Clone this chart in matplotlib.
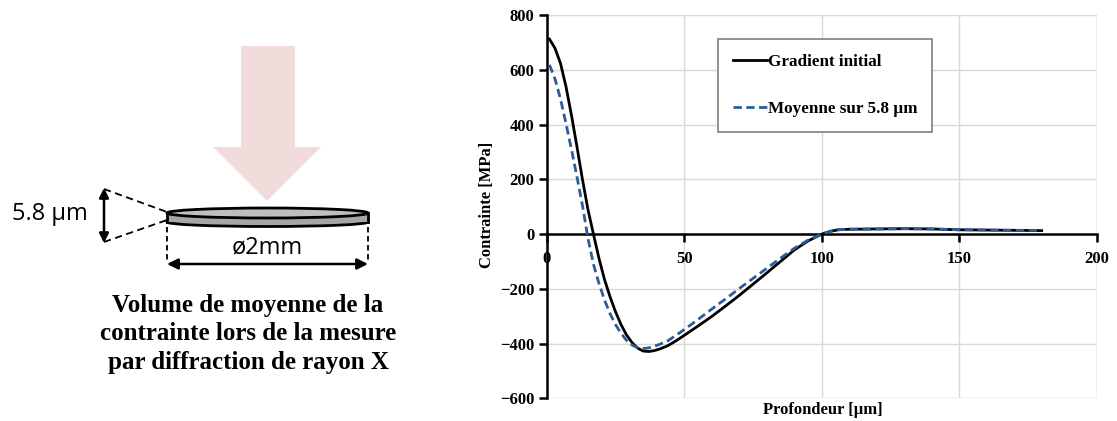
import matplotlib
matplotlib.use("Agg")
import matplotlib.pyplot as plt
from matplotlib.patches import Polygon, Ellipse, Rectangle, FancyArrowPatch

# ---------------- data ----------------
depth_grad = [1, 3, 5, 7, 9, 11, 13, 15, 17, 19, 21, 23, 25, 27, 29, 31, 33, 35, 37, 39,
              41, 44, 47, 50, 55, 60, 65, 70, 75, 80, 85, 90, 95, 100, 103, 106, 110,
              120, 130, 140, 150, 160, 170, 180]
stress_grad = [713, 680, 625, 540, 435, 320, 200, 90, 0, -88, -165, -228, -283, -330, -368,
               -396, -416, -427, -429, -426, -420, -408, -390, -370, -336, -301, -263, -224,
               -183, -142, -100, -58, -25, 0, 10, 16, 18, 19, 20, 19, 16, 15, 14, 13]

depth_avg = [1, 3, 5, 7, 9, 11, 13, 15, 17, 19, 21, 23, 25, 27, 29, 31, 33, 35, 37, 39,
             41, 44, 47, 50, 55, 60, 65, 70, 75, 80, 85, 90, 95, 100, 103, 106, 110,
             120, 130, 140, 150, 160, 170, 180]
stress_avg = [619, 568, 495, 405, 310, 210, 105, -15, -110, -180, -240, -290, -330, -362,
              -388, -405, -415, -418, -416, -410, -403, -390, -370, -349, -312, -274, -237,
              -199, -162, -125, -88, -52, -22, 0, 10, 16, 18, 19, 20, 19, 16, 15, 14, 14]

series_labels = ["Gradient initial", "Moyenne sur 5.8 µm"]
x_ticks = [0, 50, 100, 150, 200]
y_ticks = [-600, -400, -200, 0, 200, 400, 600, 800]
x_label = "Profondeur [µm]"
y_label = "Contrainte [MPa]"
caption = "Volume de moyenne de la\ncontrainte lors de la mesure\npar diffraction de rayon X"
thickness_text = "5.8 µm"
diameter_text = "ø2mm"

W, H = 1117, 421
serif = ["Liberation Serif", "DejaVu Serif"]
sans = ["Open Sans", "DejaVu Sans"]

fig = plt.figure(figsize=(W / 100, H / 100), dpi=100)

# ---------------- left schematic (pixel coordinates) ----------------
d = fig.add_axes([0, 0, 1, 1])
d.set_xlim(0, W)
d.set_ylim(H, 0)
d.axis("off")
d.set_zorder(0)

# pink arrow
arrow = Polygon([(241, 46), (295, 46), (295, 147), (321, 147), (267, 201),
                 (213, 147), (241, 147)], closed=True, facecolor="#f2dcdb",
                edgecolor="none")
d.add_patch(arrow)

# disk (flat cylinder)
d.add_patch(Ellipse((267.5, 222), 201, 9, facecolor="#a6a6a6", edgecolor="black", lw=2.0))
d.add_patch(Rectangle((167.5, 213), 200, 9, facecolor="#a6a6a6", edgecolor="none"))
d.plot([167, 167], [213, 222], color="black", lw=2.0)
d.plot([368, 368], [213, 222], color="black", lw=2.0)
d.add_patch(Ellipse((267.5, 213), 201, 10, facecolor="#bfbfbf", edgecolor="black", lw=2.0))

# dashed zoom lines
d.plot([104, 167], [189, 212], color="black", lw=1.3, ls=(0, (4, 2.5)))
d.plot([104, 167], [242, 220], color="black", lw=1.3, ls=(0, (4, 2.5)))
d.add_patch(FancyArrowPatch((104, 188), (104, 243), arrowstyle="<|-|>",
                            mutation_scale=14, color="black", lw=1.8, shrinkA=0, shrinkB=0))
d.text(50, 214, thickness_text, ha="center", va="center", fontsize=17, family=sans)

# diameter
d.plot([167, 167], [227, 262], color="black", lw=1.3, ls=(0, (3, 2)))
d.plot([368, 368], [227, 262], color="black", lw=1.3, ls=(0, (3, 2)))
d.add_patch(FancyArrowPatch((167, 264), (368, 264), arrowstyle="<|-|>",
                            mutation_scale=16, color="black", lw=1.8, shrinkA=0, shrinkB=0))
d.text(267, 247, diameter_text, ha="center", va="center", fontsize=17, family=sans)

d.text(248, 334, caption, ha="center", va="center", fontsize=18, family=serif,
       fontweight="bold", linespacing=1.32)

# ---------------- chart ----------------
ax = fig.add_axes([546.7 / W, 1 - 398.3 / H, 550 / W, 383 / H])
ax.set_zorder(1)
ax.patch.set_alpha(0)

ax.plot(depth_grad, stress_grad, color="black", lw=2.0, label=series_labels[0], zorder=3)
ax.plot(depth_avg, stress_avg, color="#2c5d9a", lw=2.0, ls=(0, (3, 1.6)),
        label=series_labels[1], zorder=4)

ax.set_xlim(0, 200)
ax.set_ylim(-600, 800)
ax.set_xticks(x_ticks)
ax.set_yticks(y_ticks)
ax.grid(True, color="#d9d9d9", lw=1.0)
ax.set_axisbelow(True)

for s in ["top", "right"]:
    ax.spines[s].set_visible(False)
ax.spines["left"].set_linewidth(1.8)
ax.spines["bottom"].set_linewidth(1.8)
ax.spines["bottom"].set_position(("data", 0))
ax.spines["bottom"].set_zorder(2)
ax.axhline(-600, color="#d9d9d9", lw=1.0, zorder=0)
ax.axvline(200, color="#d9d9d9", lw=1.0, zorder=0)

ax.tick_params(axis="both", direction="out", length=6, width=1.8, color="black")
ax.tick_params(axis="x", pad=6)
ax.tick_params(axis="y", pad=3)
for lab in ax.get_xticklabels() + ax.get_yticklabels():
    lab.set_fontfamily(serif)
    lab.set_fontweight("bold")
    lab.set_fontsize(12)

fig.text(487 / W, 1 - 205 / H, y_label, rotation=90, ha="center", va="center",
         fontsize=12, family=serif, fontweight="bold")
fig.text(823 / W, 1 - 410 / H, x_label, ha="center", va="center",
         fontsize=12, family=serif, fontweight="bold")

leg = ax.legend(loc="upper left", bbox_to_anchor=((718 - 546.7) / 550, (398.3 - 39) / 383),
                borderaxespad=0, frameon=True, fancybox=False, framealpha=1,
                edgecolor="#7f7f7f", handlelength=2.0, handletextpad=0.1,
                labelspacing=1.85, borderpad=0.85,
                prop={"family": serif, "weight": "bold", "size": 12.3})
leg.get_frame().set_linewidth(1.2)

fig.savefig("out.png", dpi=100)
